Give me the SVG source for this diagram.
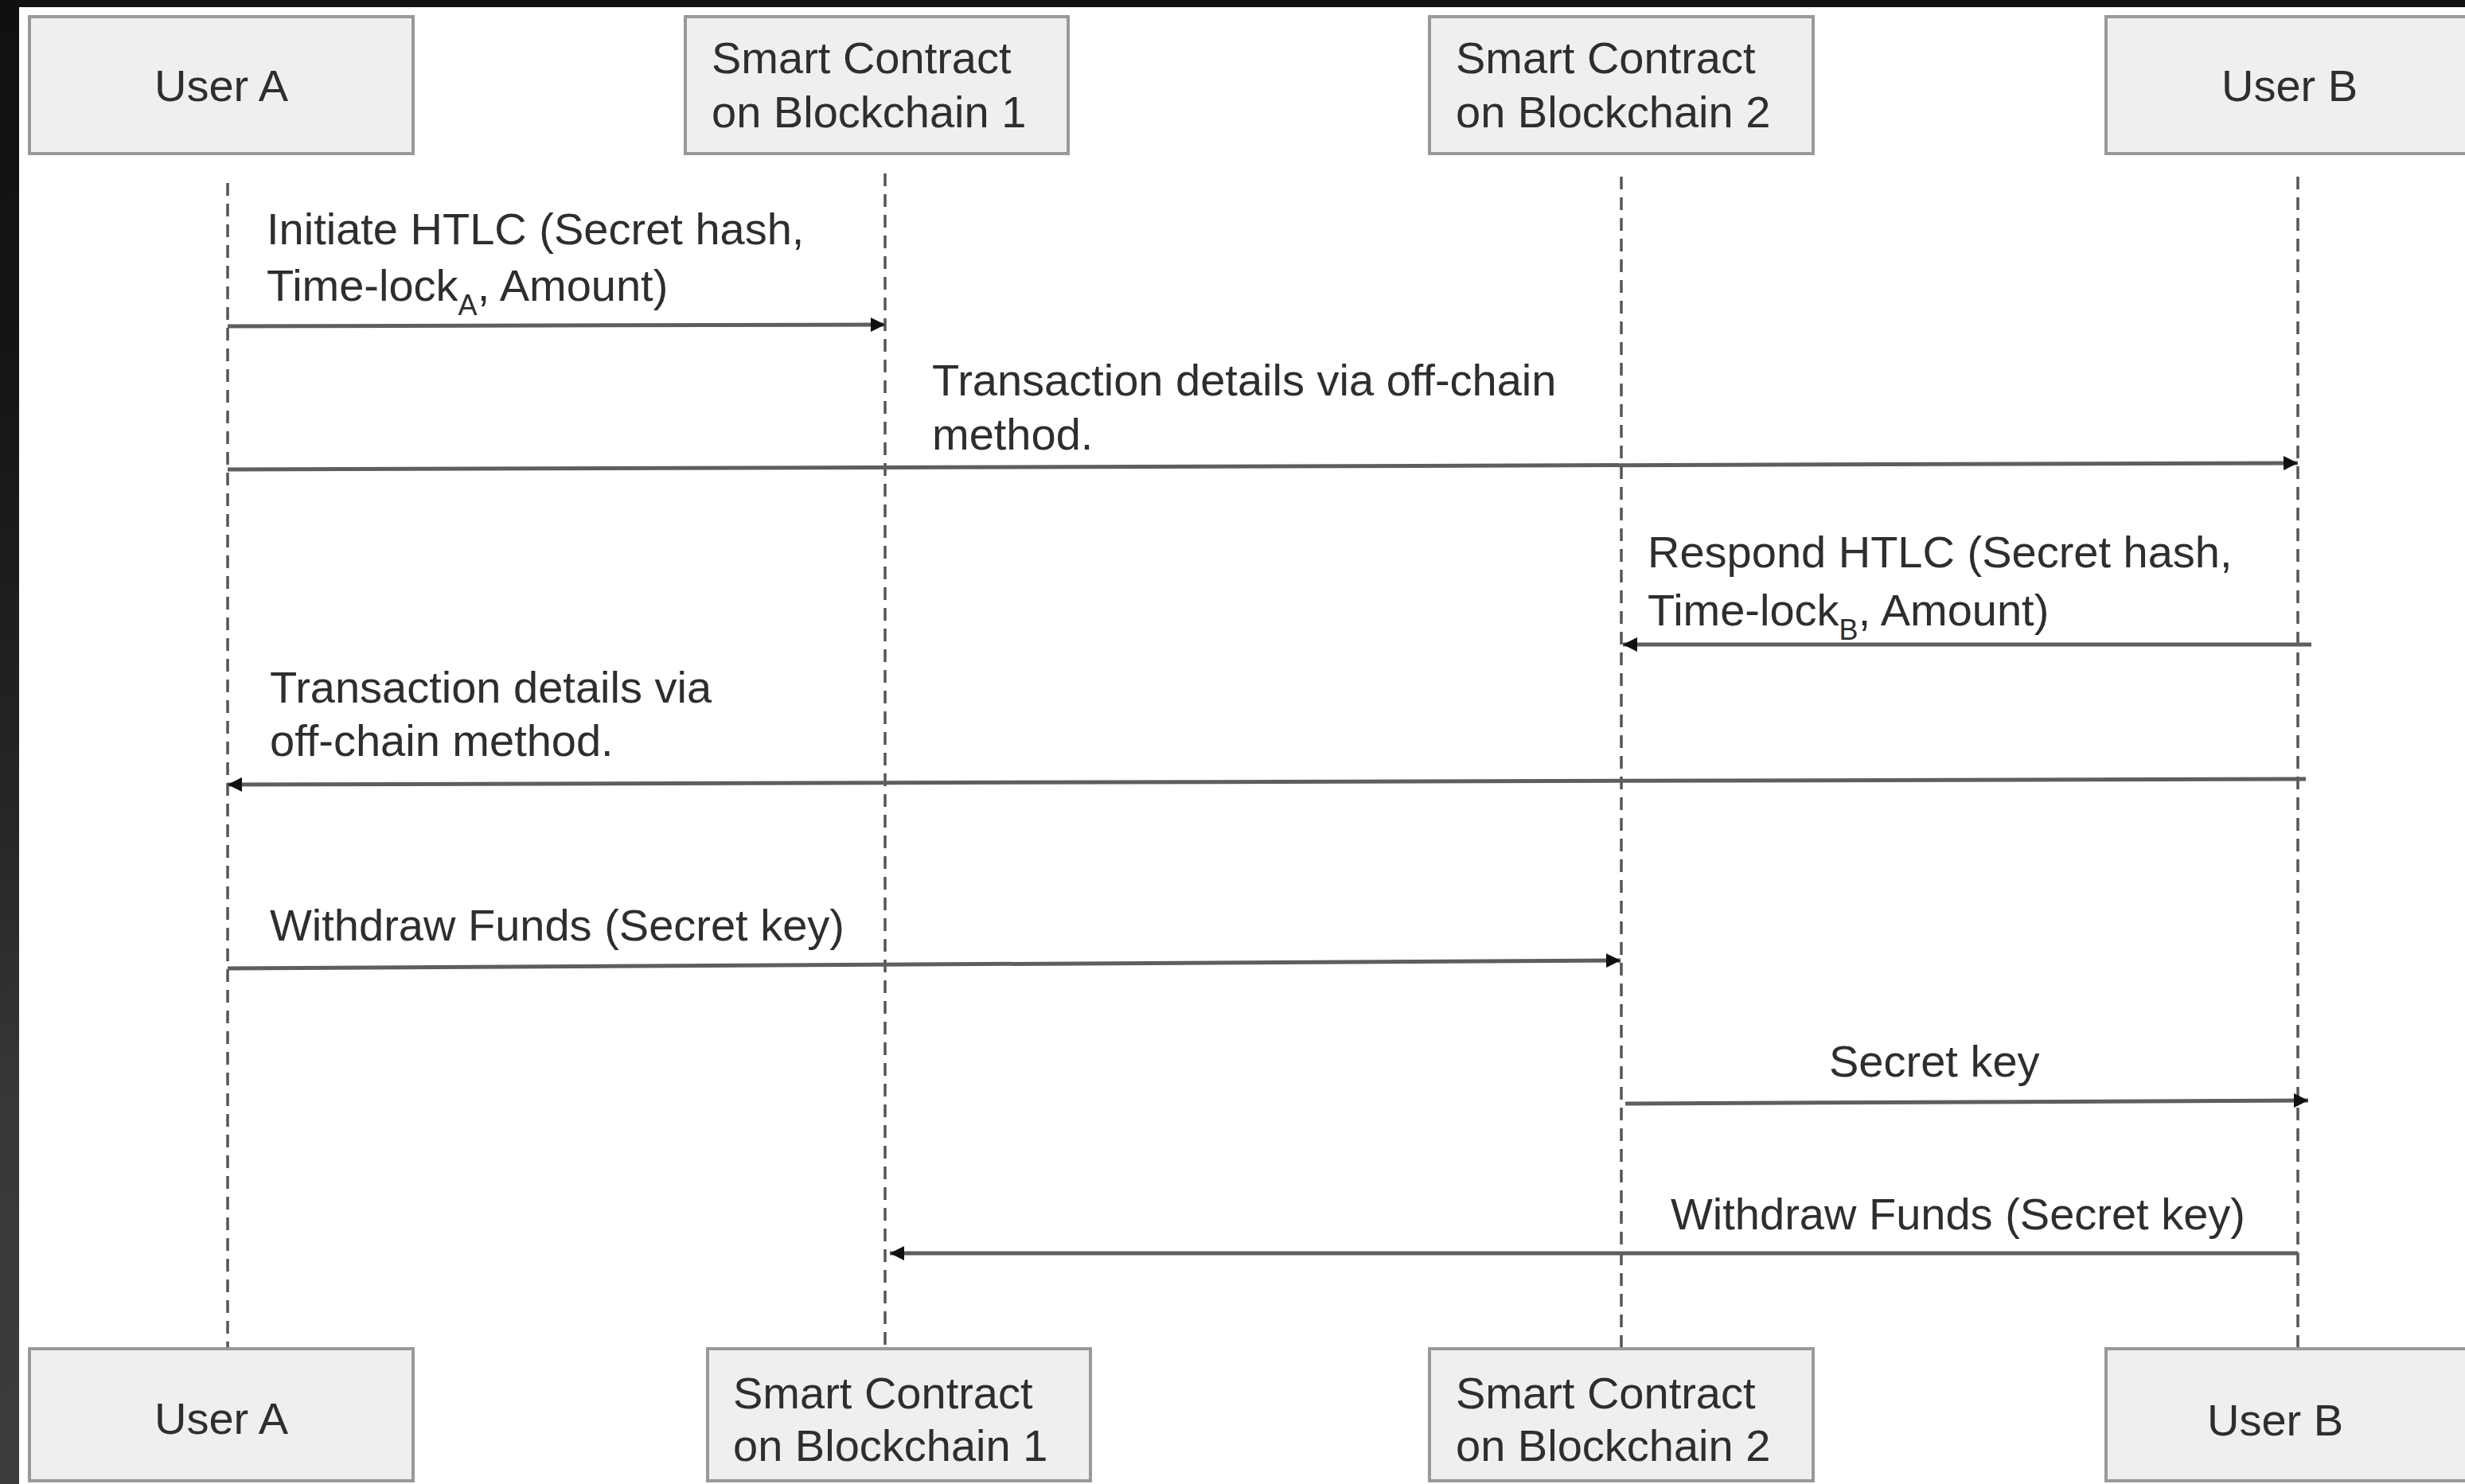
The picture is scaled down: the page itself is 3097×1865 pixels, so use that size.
<svg xmlns="http://www.w3.org/2000/svg" width="3097" height="1865" viewBox="0 0 3097 1865">
<defs>
<linearGradient id="side" x1="0" y1="0" x2="0" y2="1">
<stop offset="0" stop-color="#101010"/>
<stop offset="0.25" stop-color="#151515"/>
<stop offset="0.55" stop-color="#262626"/>
<stop offset="0.75" stop-color="#383838"/>
<stop offset="1" stop-color="#3c3c3c"/>
</linearGradient>
<marker id="ah" viewBox="0 0 10 10" refX="10" refY="5" markerUnits="userSpaceOnUse" markerWidth="18" markerHeight="18" orient="auto">
<path d="M0,0 L10,5 L0,10 z" fill="#111"/>
</marker>
<style>
.box{fill:#efefef;stroke:#999;stroke-width:4}
.lbl{font-family:"Liberation Sans",Arial,sans-serif;font-size:56px;fill:#2e2e2e}
.life{stroke:#555;stroke-width:3.5;stroke-dasharray:16 10;fill:none}
.msg{stroke:#5e5e5e;stroke-width:5;fill:none;marker-end:url(#ah)}
.sub{font-size:36px}
</style>
</defs>
<rect x="0" y="0" width="3097" height="1865" fill="#111"/>
<rect x="0" y="0" width="24" height="1865" fill="url(#side)"/>
<rect x="24" y="9" width="3073" height="1856" fill="#fff"/>

<g id="lifelines">
<line class="life" x1="286" y1="230" x2="286" y2="1694"/>
<line class="life" x1="1112" y1="218" x2="1112" y2="1694"/>
<line class="life" x1="2037" y1="222" x2="2037" y2="1694"/>
<line class="life" x1="2887" y1="222" x2="2887" y2="1694"/>
</g>

<g id="userA-top">
<rect class="box" x="37" y="21" width="482" height="172"/>
<text class="lbl" x="278" y="127" text-anchor="middle">User A</text>
</g>
<g id="sc1-top">
<rect class="box" x="861" y="21" width="481" height="172"/>
<text class="lbl" x="894" y="92">Smart Contract</text>
<text class="lbl" x="894" y="160">on Blockchain 1</text>
</g>
<g id="sc2-top">
<rect class="box" x="1796" y="21" width="482" height="172"/>
<text class="lbl" x="1829" y="92">Smart Contract</text>
<text class="lbl" x="1829" y="160">on Blockchain 2</text>
</g>
<g id="userB-top">
<rect class="box" x="2646" y="21" width="470" height="172"/>
<text class="lbl" x="2791" y="127">User B</text>
</g>

<g id="userA-bottom">
<rect class="box" x="37" y="1695" width="482" height="166"/>
<text class="lbl" x="278" y="1802" text-anchor="middle">User A</text>
</g>
<g id="sc1-bottom">
<rect class="box" x="889" y="1695" width="481" height="166"/>
<text class="lbl" x="921" y="1770">Smart Contract</text>
<text class="lbl" x="921" y="1836">on Blockchain 1</text>
</g>
<g id="sc2-bottom">
<rect class="box" x="1796" y="1695" width="482" height="166"/>
<text class="lbl" x="1829" y="1770">Smart Contract</text>
<text class="lbl" x="1829" y="1836">on Blockchain 2</text>
</g>
<g id="userB-bottom">
<rect class="box" x="2646" y="1695" width="470" height="166"/>
<text class="lbl" x="2773" y="1804">User B</text>
</g>

<g id="connectors">
<line class="msg" x1="286" y1="410" x2="1112" y2="408"/>
<line class="msg" x1="286" y1="590" x2="2887" y2="582"/>
<line class="msg" x1="2904" y1="810" x2="2039" y2="810"/>
<line class="msg" x1="2897" y1="979" x2="286" y2="986"/>
<line class="msg" x1="286" y1="1217" x2="2036" y2="1207"/>
<line class="msg" x1="2042" y1="1387" x2="2900" y2="1383"/>
<line class="msg" x1="2887" y1="1575" x2="1118" y2="1575"/>
</g>

<g id="labels">
<text class="lbl" x="335" y="307">Initiate HTLC (Secret hash,</text>
<text class="lbl" x="335" y="378">Time-lock<tspan class="sub" dy="18">A</tspan><tspan dy="-18">, Amount)</tspan></text>
<text class="lbl" x="1171" y="497">Transaction details via off-chain</text>
<text class="lbl" x="1171" y="565">method.</text>
<text class="lbl" x="2070" y="713">Respond HTLC (Secret hash,</text>
<text class="lbl" x="2070" y="786">Time-lock<tspan class="sub" dy="18">B</tspan><tspan dy="-18">, Amount)</tspan></text>
<text class="lbl" x="339" y="883">Transaction details via</text>
<text class="lbl" x="339" y="950">off-chain method.</text>
<text class="lbl" x="339" y="1182">Withdraw Funds (Secret key)</text>
<text class="lbl" x="2298" y="1353">Secret key</text>
<text class="lbl" x="2099" y="1545">Withdraw Funds (Secret key)</text>
</g>
</svg>
